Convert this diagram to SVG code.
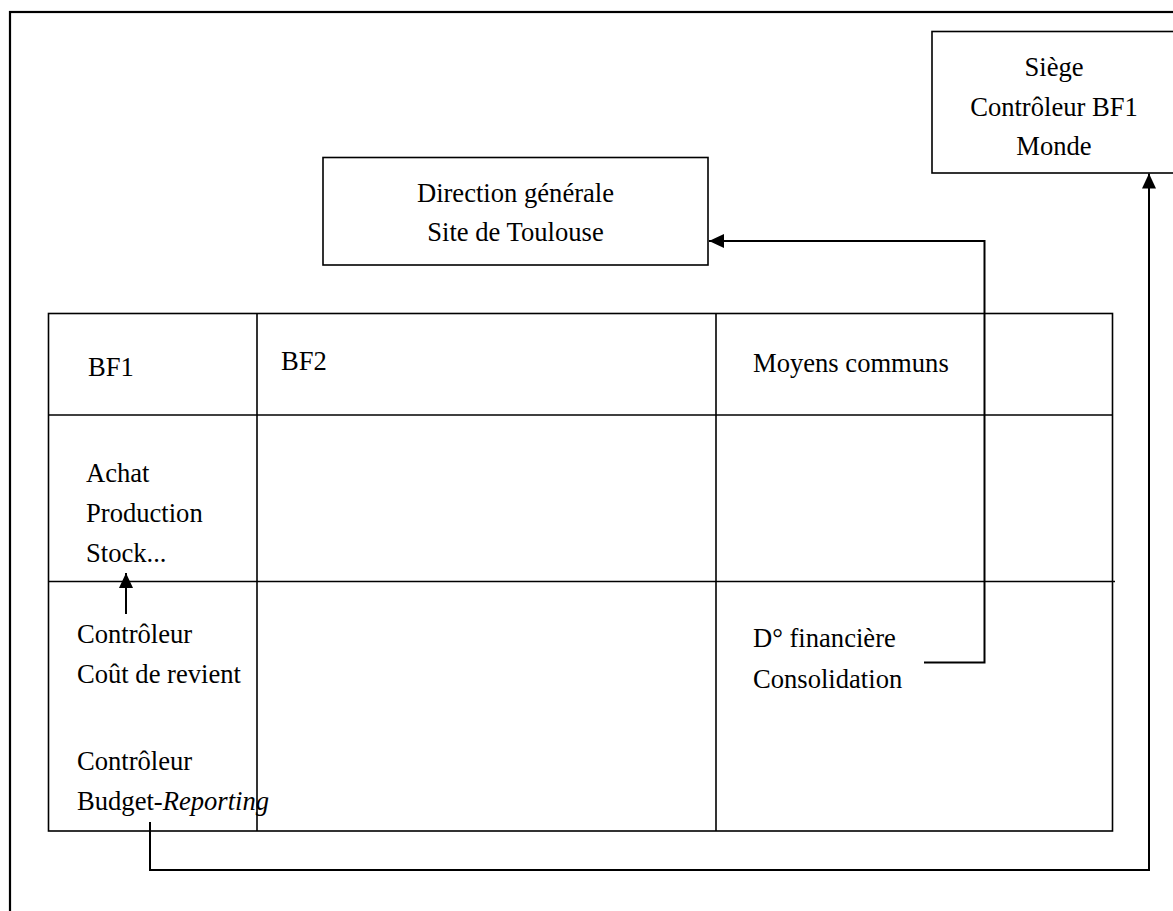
<svg xmlns="http://www.w3.org/2000/svg" width="1173" height="911" viewBox="0 0 1173 911">
<style>
  text { font-family: "Liberation Serif", "Times New Roman", serif; font-size: 26.6px; fill: #000; }
  .c { text-anchor: middle; }
  .box { fill: #fff; stroke: #000; stroke-width: 1.6; }
  .grid { fill: none; stroke: #000; stroke-width: 1.6; }
  .frame { fill: none; stroke: #000; stroke-width: 2.2; }
  .conn { fill: none; stroke: #000; stroke-width: 2; }
</style>
<defs>
  <marker id="arrow" markerUnits="userSpaceOnUse" markerWidth="16" markerHeight="16" viewBox="0 0 16 16" refX="15" refY="8" orient="auto">
    <path d="M0,1 L15,8 L0,15 Z" fill="#000"/>
  </marker>
</defs>
<rect width="1173" height="911" fill="#fff"/>
<rect id="frame" class="frame" x="10" y="12" width="1250" height="1000"/>

<g id="siege">
  <rect class="box" x="932" y="31.5" width="300" height="141.5"/>
  <text class="c" x="1054" y="76">Siège</text>
  <text class="c" x="1054" y="116">Contrôleur BF1</text>
  <text class="c" x="1054" y="155">Monde</text>
</g>

<g id="direction">
  <rect class="box" x="323" y="157.5" width="385" height="107.5"/>
  <text class="c" x="515.5" y="201.5">Direction générale</text>
  <text class="c" x="515.5" y="240.5">Site de Toulouse</text>
</g>

<g id="table">
  <rect class="grid" x="48.5" y="313.5" width="1064" height="517.5"/>
  <line class="grid" x1="48.5" y1="415" x2="1112.5" y2="415"/>
  <line class="grid" x1="48.5" y1="581.5" x2="1115" y2="581.5"/>
  <line class="grid" x1="257" y1="313.5" x2="257" y2="831"/>
  <line class="grid" x1="716" y1="313.5" x2="716" y2="831"/>
</g>

<g id="bf1">
  <text x="88" y="376">BF1</text>
</g>
<g id="bf2">
  <text x="281" y="370">BF2</text>
</g>
<g id="moyens">
  <text x="753" y="372">Moyens communs</text>
</g>
<g id="achat">
  <text x="86" y="482">Achat</text>
  <text x="86" y="522">Production</text>
  <text x="86" y="562">Stock...</text>
</g>
<g id="controleur-cout">
  <text x="77" y="643">Contrôleur</text>
  <text x="77" y="683">Coût de revient</text>
</g>
<g id="controleur-budget">
  <text x="77" y="770">Contrôleur</text>
  <text x="77" y="810">Budget-<tspan font-style="italic">Reporting</tspan></text>
</g>
<g id="dfinanciere">
  <text x="753" y="647">D° financière</text>
  <text x="753" y="688">Consolidation</text>
</g>

<g id="connectors">
  <path class="conn" d="M126,614 L126,573" marker-end="url(#arrow)"/>
  <path class="conn" d="M924,662.5 L984.5,662.5 L984.5,241 L709,241" marker-end="url(#arrow)"/>
  <path class="conn" d="M150,822 L150,870 L1149,870 L1149,173.5" marker-end="url(#arrow)"/>
</g>
</svg>
